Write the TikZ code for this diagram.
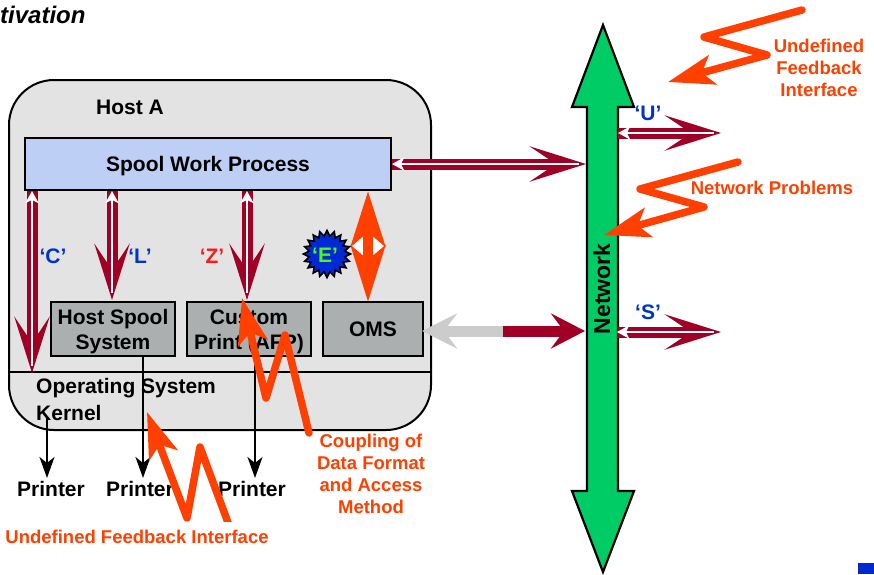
\documentclass[tikz,border=0pt]{standalone}
\usepackage{fontspec}
\setmainfont{Liberation Sans}
\usetikzlibrary{arrows.meta,shapes.geometric,calc}
\definecolor{crim}{HTML}{A00025}
\definecolor{bolt}{HTML}{FF4000}
\definecolor{netg}{HTML}{00CC66}
\definecolor{hostg}{HTML}{E3E3E3}
\definecolor{boxg}{HTML}{ABAFAF}
\definecolor{spoolb}{HTML}{BDCFF5}
\definecolor{lblue}{HTML}{0033CC}
\tikzset{
 bigtxt/.style={font=\fontsize{21}{25}\selectfont\bfseries,inner sep=0pt,align=center},
 redtxt/.style={font=\fontsize{18.5}{22}\selectfont\bfseries,text=bolt,inner sep=0pt,align=center},
 lettertxt/.style={font=\fontsize{21}{25}\selectfont\bfseries,inner sep=0pt},
 greybox/.style={draw=black,line width=2pt,fill=boxg,inner sep=0pt,minimum height=54pt},
 crimarrow/.style={draw=crim,line width=11pt,-{Stealth[length=56pt,width=35pt,inset=26pt]}},
 whitecore/.style={draw=white,line width=2.4pt,shorten >=7pt,{Stealth[length=12pt,width=13pt,inset=3pt]}-},
 boltarrow/.style={draw=bolt,line width=7.5pt,line join=round,line cap=round,-{Stealth[length=46pt,width=30pt,inset=11pt]}},
 printarrow/.style={draw=black,line width=2pt,-{Stealth[length=21pt,width=15pt,inset=6pt]}},
}
\begin{document}
\begin{tikzpicture}[x=1pt,y=-1pt]
\useasboundingbox (0,0) rectangle (874,574);
% title
\node[font=\fontsize{24}{25}\selectfont\bfseries\itshape,inner sep=0pt,anchor=west] (title) at (0,15) {tivation};
% host
\node[draw=black,line width=2pt,fill=hostg,rounded corners=45pt,minimum width=422pt,minimum height=350pt,inner sep=0pt] (host) at (220,255) {};
\node[bigtxt] (hosta) at (130,107) {Host A};
\coordinate (kl) at (8,372); \coordinate (kr) at (431,372);
\draw[line width=2pt] (kl) -- (kr);
\node[draw=black,line width=2pt,fill=spoolb,minimum width=366pt,minimum height=52pt,inner sep=0pt,label={[bigtxt,yshift=-2pt]center:Spool Work Process}] (spool) at (208,164) {};
\node[greybox,minimum width=124pt,label={[bigtxt,yshift=-3pt]center:Host Spool\\System}] (hs) at (113,329) {};
\node[greybox,minimum width=124pt,label={[bigtxt,yshift=-3pt]center:Custom\\Print (AFP)}] (cp) at (249,329) {};
\node[greybox,bigtxt,minimum width=100pt] (oms) at (373,329) {OMS};
% network arrow
\draw[draw=black,line width=2.2pt,fill=netg,line join=miter] (603,25) -- (634,107) -- (618,107) -- (618,491) -- (634,491) -- (603,572) -- (572,491) -- (587,491) -- (587,107) -- (572,107) -- cycle;
\node[font=\fontsize{23}{25}\selectfont\bfseries,inner sep=0pt,rotate=90] (net) at (602,289) {Network};
\coordinate (netL1) at (586,164); \coordinate (netL2) at (585,331);
\coordinate (netU) at (618,133); \coordinate (netS) at (617,332);
\coordinate (uEnd) at (721,133); \coordinate (sEnd) at (721,332);
% crimson connectors
\coordinate (cEnd) at (32,373); \coordinate (lEnd) at (112,300); \coordinate (zEnd) at (247,300);
\coordinate (cTop) at (spool.south -| cEnd); \coordinate (lTop) at (spool.south -| lEnd); \coordinate (zTop) at (spool.south -| zEnd);
\foreach \a/\b in {cTop/cEnd,lTop/lEnd,zTop/zEnd,spool.east/netL1,netU/uEnd,netS/sEnd}{
  \draw[crimarrow] (\a) -- (\b);
  \draw[whitecore] (\a) -- (\b);
}
% OMS - network
\coordinate (omsMid) at (503,331);
\coordinate (omsTip) at (422,331);
\draw[draw=crim,line width=11pt,-{Stealth[length=34pt,width=35pt,inset=13pt]}] (omsMid) -- (netL2);
\draw[draw=black!20,line width=11pt,-{Stealth[length=35pt,width=35pt,inset=13pt]}] (omsMid) -- (omsTip);
% orange double arrow
\coordinate (oTop) at (368,191); \coordinate (oBot) at (368,302);
\fill[white] (351,246) -- (368,232) -- (385,246) -- (368,260) -- cycle;
\draw[draw=bolt,line width=10pt,{Stealth[length=55pt,width=34pt,inset=14pt]}-{Stealth[length=56pt,width=34pt,inset=14pt]}] (oTop) -- (oBot);
% E star
\node[star,star points=20,star point ratio=1.3,draw=black,line width=1.6pt,fill=lblue!80!blue,minimum size=47pt,inner sep=0pt] (estar) at (327,254) {};
\node[lettertxt,text=green!60!lime] (elab) at (325,255) {‘E’};
% letters
\node[lettertxt,text=lblue] (lc) at (53,256) {‘C’};
\node[lettertxt,text=lblue] (ll) at (140,256) {‘L’};
\node[lettertxt,text=red!90!white] (lz) at (212,256) {‘Z’};
\node[lettertxt,text=lblue] (lu) at (648,113) {‘U’};
\node[lettertxt,text=lblue] (ls) at (648,312) {‘S’};
% kernel
\node[bigtxt,anchor=west] (os) at (36,388) {Operating System};
\node[bigtxt,anchor=west] (kern) at (36,413) {Kernel};
% printers
\node[bigtxt] (p1) at (51,489) {Printer};
\node[bigtxt] (p2) at (140,489) {Printer};
\node[bigtxt] (p3) at (252,489) {Printer};
\coordinate (k1) at (47,418); \coordinate (a1) at (47,478);
\coordinate (a2) at (143,478); \coordinate (a3) at (255,478);
\draw[printarrow] (k1) -- (a1);
\draw[printarrow] (hs.south -| a2) -- (a2);
\draw[printarrow] (cp.south -| a3) -- (a3);
% bolts
\coordinate (b1) at (802,10); \coordinate (b1t) at (668,82);
\draw[boltarrow] (b1) -- (704,37) -- (767,55) -- (b1t);
\coordinate (b2) at (738,162); \coordinate (b2t) at (604,235);
\draw[boltarrow] (b2) -- (640,189) -- (704,207) -- (b2t);
\coordinate (b3) at (309,433); \coordinate (b3t) at (242,298);
\draw[boltarrow] (b3) -- (285,335) -- (266,398) -- (b3t);
\coordinate (b4) at (230,528); \coordinate (b4t) at (147,412);
\draw[boltarrow] (b4) -- (200,447) -- (187,518) -- (b4t);
% red labels
\node[redtxt] (t1) at (819,68) {Undefined\\Feedback\\Interface};
\node[redtxt] (t2) at (772,188) {Network Problems};
\node[redtxt] (t3) at (371,474) {Coupling of\\Data Format\\and Access\\Method};
\node[redtxt,fill=white,minimum height=31pt] (t4) at (137,537) {Undefined Feedback Interface};
% corner mark
\fill[lblue!80!blue] (858,563) rectangle (874,574);
\end{tikzpicture}
\end{document}
